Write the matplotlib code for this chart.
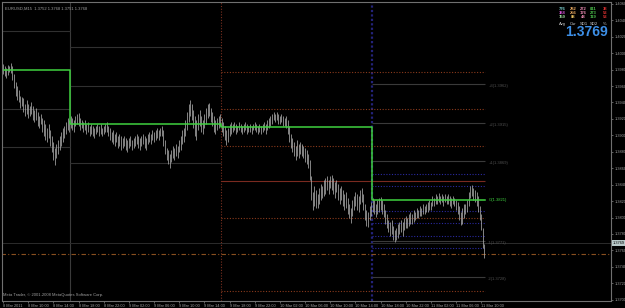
import matplotlib
matplotlib.use("Agg")
import matplotlib.pyplot as plt

plt.rcParams['font.family'] = ['Liberation Sans', 'DejaVu Sans']

# EURUSD M15 bars, 8 Mar 2011 06:00 onwards
highs = [
    1.3987, 1.3984, 1.3982, 1.3986, 1.3984, 1.3988, 1.3984, 1.3975, 1.3965, 1.3960,
    1.3955, 1.3948, 1.3947, 1.3945, 1.3938, 1.3943, 1.3938, 1.3936, 1.3941, 1.3936,
    1.3931, 1.3933, 1.3928, 1.3923, 1.3926, 1.3921, 1.3919, 1.3914, 1.3909, 1.3914,
    1.3906, 1.3899, 1.3892, 1.3885, 1.3889, 1.3894, 1.3899, 1.3904, 1.3909, 1.3911,
    1.3916, 1.3921, 1.3919, 1.3923, 1.3921, 1.3919, 1.3923, 1.3926, 1.3927, 1.3921,
    1.3919, 1.3916, 1.3919, 1.3914, 1.3916, 1.3911, 1.3914, 1.3911, 1.3909, 1.3911,
    1.3914, 1.3911, 1.3914, 1.3909, 1.3911, 1.3914, 1.3916, 1.3911, 1.3909, 1.3904,
    1.3906, 1.3902, 1.3904, 1.3899, 1.3902, 1.3899, 1.3897, 1.3899, 1.3897, 1.3894,
    1.3897, 1.3899, 1.3894, 1.3897, 1.3899, 1.3902, 1.3899, 1.3897, 1.3899, 1.3902,
    1.3899, 1.3897, 1.3902, 1.3904, 1.3902, 1.3906, 1.3904, 1.3906, 1.3909, 1.3906,
    1.3909, 1.3911, 1.3906, 1.3894, 1.3885, 1.3882, 1.3877, 1.3882, 1.3887, 1.3885,
    1.3889, 1.3887, 1.3894, 1.3899, 1.3906, 1.3909, 1.3919, 1.3928, 1.3938, 1.3943,
    1.3938, 1.3931, 1.3923, 1.3919, 1.3926, 1.3931, 1.3923, 1.3919, 1.3926, 1.3933,
    1.3938, 1.3939, 1.3933, 1.3928, 1.3923, 1.3919, 1.3921, 1.3923, 1.3926, 1.3921,
    1.3916, 1.3911, 1.3906, 1.3909, 1.3914, 1.3916, 1.3914, 1.3916, 1.3914, 1.3911,
    1.3916, 1.3914, 1.3911, 1.3914, 1.3916, 1.3914, 1.3911, 1.3914, 1.3911, 1.3914,
    1.3916, 1.3914, 1.3911, 1.3914, 1.3911, 1.3914, 1.3916, 1.3914, 1.3919, 1.3921,
    1.3923, 1.3926, 1.3928, 1.3926, 1.3928, 1.3926, 1.3923, 1.3926, 1.3923, 1.3921,
    1.3923, 1.3919, 1.3911, 1.3902, 1.3897, 1.3892, 1.3887, 1.3894, 1.3889, 1.3892,
    1.3889, 1.3887, 1.3885, 1.3882, 1.3877, 1.3870, 1.3850, 1.3831, 1.3838, 1.3833,
    1.3829, 1.3836, 1.3841, 1.3838, 1.3846, 1.3848, 1.3850, 1.3846, 1.3850, 1.3852,
    1.3848, 1.3843, 1.3846, 1.3841, 1.3836, 1.3838, 1.3833, 1.3829, 1.3831, 1.3824,
    1.3816, 1.3812, 1.3821, 1.3826, 1.3831, 1.3829, 1.3826, 1.3833, 1.3836, 1.3829,
    1.3816, 1.3809, 1.3807, 1.3814, 1.3819, 1.3824, 1.3821, 1.3816, 1.3821, 1.3824,
    1.3825, 1.3821, 1.3816, 1.3809, 1.3804, 1.3797, 1.3794, 1.3797, 1.3790, 1.3785,
    1.3787, 1.3792, 1.3794, 1.3797, 1.3794, 1.3799, 1.3802, 1.3799, 1.3804, 1.3807,
    1.3804, 1.3809, 1.3807, 1.3812, 1.3809, 1.3814, 1.3812, 1.3816, 1.3814, 1.3816,
    1.3819, 1.3821, 1.3819, 1.3826, 1.3824, 1.3829, 1.3826, 1.3830, 1.3826, 1.3829,
    1.3826, 1.3829, 1.3826, 1.3829, 1.3826, 1.3824, 1.3826, 1.3824, 1.3821, 1.3819,
    1.3814, 1.3807, 1.3812, 1.3816, 1.3816, 1.3821, 1.3831, 1.3838, 1.3840, 1.3836,
    1.3833, 1.3831, 1.3826, 1.3814, 1.3804, 1.3787, 1.3768,
]
lows = [
    1.3975, 1.3972, 1.3970, 1.3973, 1.3977, 1.3976, 1.3967, 1.3958, 1.3948, 1.3943,
    1.3941, 1.3933, 1.3936, 1.3928, 1.3923, 1.3926, 1.3921, 1.3923, 1.3926, 1.3919,
    1.3916, 1.3919, 1.3911, 1.3909, 1.3914, 1.3904, 1.3899, 1.3894, 1.3892, 1.3897,
    1.3887, 1.3880, 1.3870, 1.3864, 1.3872, 1.3877, 1.3882, 1.3887, 1.3892, 1.3897,
    1.3902, 1.3906, 1.3904, 1.3909, 1.3906, 1.3904, 1.3911, 1.3914, 1.3911, 1.3906,
    1.3909, 1.3904, 1.3906, 1.3902, 1.3904, 1.3899, 1.3902, 1.3899, 1.3897, 1.3902,
    1.3904, 1.3899, 1.3902, 1.3899, 1.3902, 1.3904, 1.3904, 1.3899, 1.3894, 1.3892,
    1.3889, 1.3887, 1.3892, 1.3885, 1.3887, 1.3882, 1.3885, 1.3887, 1.3882, 1.3880,
    1.3885, 1.3887, 1.3882, 1.3885, 1.3887, 1.3889, 1.3885, 1.3882, 1.3887, 1.3889,
    1.3885, 1.3882, 1.3889, 1.3892, 1.3889, 1.3894, 1.3892, 1.3894, 1.3897, 1.3894,
    1.3899, 1.3899, 1.3887, 1.3877, 1.3870, 1.3865, 1.3860, 1.3868, 1.3872, 1.3870,
    1.3875, 1.3872, 1.3880, 1.3882, 1.3889, 1.3892, 1.3899, 1.3906, 1.3916, 1.3923,
    1.3919, 1.3909, 1.3899, 1.3894, 1.3906, 1.3911, 1.3904, 1.3902, 1.3909, 1.3914,
    1.3921, 1.3923, 1.3916, 1.3911, 1.3904, 1.3902, 1.3906, 1.3909, 1.3911, 1.3904,
    1.3899, 1.3894, 1.3888, 1.3892, 1.3899, 1.3902, 1.3904, 1.3906, 1.3902, 1.3904,
    1.3906, 1.3904, 1.3902, 1.3904, 1.3906, 1.3902, 1.3904, 1.3904, 1.3902, 1.3906,
    1.3906, 1.3904, 1.3902, 1.3904, 1.3902, 1.3904, 1.3906, 1.3902, 1.3906, 1.3909,
    1.3911, 1.3914, 1.3919, 1.3916, 1.3919, 1.3914, 1.3914, 1.3916, 1.3911, 1.3911,
    1.3909, 1.3902, 1.3892, 1.3885, 1.3880, 1.3875, 1.3870, 1.3875, 1.3872, 1.3877,
    1.3875, 1.3872, 1.3868, 1.3865, 1.3860, 1.3846, 1.3821, 1.3809, 1.3814, 1.3812,
    1.3812, 1.3816, 1.3821, 1.3824, 1.3826, 1.3829, 1.3833, 1.3829, 1.3836, 1.3833,
    1.3829, 1.3824, 1.3831, 1.3821, 1.3816, 1.3821, 1.3814, 1.3809, 1.3812, 1.3804,
    1.3799, 1.3793, 1.3802, 1.3809, 1.3814, 1.3809, 1.3807, 1.3816, 1.3819, 1.3809,
    1.3797, 1.3790, 1.3789, 1.3797, 1.3802, 1.3807, 1.3804, 1.3801, 1.3804, 1.3807,
    1.3809, 1.3804, 1.3801, 1.3792, 1.3787, 1.3782, 1.3778, 1.3780, 1.3773, 1.3770,
    1.3773, 1.3775, 1.3780, 1.3782, 1.3778, 1.3785, 1.3787, 1.3787, 1.3790, 1.3792,
    1.3792, 1.3794, 1.3797, 1.3799, 1.3799, 1.3802, 1.3802, 1.3804, 1.3804, 1.3807,
    1.3807, 1.3809, 1.3809, 1.3814, 1.3814, 1.3816, 1.3816, 1.3819, 1.3816, 1.3819,
    1.3814, 1.3819, 1.3816, 1.3816, 1.3814, 1.3812, 1.3816, 1.3814, 1.3809, 1.3804,
    1.3797, 1.3791, 1.3792, 1.3799, 1.3804, 1.3807, 1.3814, 1.3824, 1.3826, 1.3821,
    1.3819, 1.3814, 1.3807, 1.3797, 1.3785, 1.3763, 1.3751,
]

x_labels = ["8 Mar 2011", "8 Mar 10:00", "8 Mar 14:00", "8 Mar 18:00", "8 Mar 22:00",
            "9 Mar 02:00", "9 Mar 06:00", "9 Mar 10:00", "9 Mar 14:00", "9 Mar 18:00",
            "9 Mar 22:00", "10 Mar 02:00", "10 Mar 06:00", "10 Mar 10:00", "10 Mar 14:00",
            "10 Mar 18:00", "10 Mar 22:00", "11 Mar 02:00", "11 Mar 06:00", "11 Mar 10:00"]
x_label_bars = [0, 16, 32, 48, 64, 80, 96, 112, 128, 144, 160, 176, 192, 208, 224,
                240, 256, 272, 288, 304]
y_ticks = [1.3700, 1.3720, 1.3740, 1.3760, 1.3780, 1.3800, 1.3820, 1.3840, 1.3860,
           1.3880, 1.3900, 1.3920, 1.3940, 1.3960, 1.3980, 1.4000, 1.4020, 1.4040, 1.4060]

# day boundaries (bar index) and daily pivot
day_breaks = [42.6, 138.6, 234.6]
pivot_edges = [0, 42.6, 138.6, 234.6, 306.5]
pivot_values = [1.3979, 1.3914, 1.3910, 1.3821]

day1_levels = [1.4027, 1.3932, 1.3886]
day2_levels = [1.4008, 1.3960, 1.3866]
fib_dotted = [1.3977, 1.3932, 1.3887, 1.3800, 1.3710]
fib_solid = 1.3844
fib_dashdot = 1.3756
today_levels = [1.3962, 1.3915, 1.3869, 1.3771, 1.3728]
today_names = ["+3", "+2", "+1", "-1", "-2"]
blue_levels = [1.3853, 1.3838, 1.3808, 1.3793, 1.3778, 1.3763]
bid = 1.3769

panel_rows = [["776", "282", "272", "811", "38"],
              ["388", "256", "176", "273", "53"],
              ["159", "88", "48", "119", "53"]]
panel_colors = [["#7fd6d6", "#e8a860", "#e888b0", "#4cc44c", "#d83030"],
                ["#d050d0", "#e8a860", "#e888b0", "#4cc44c", "#d83030"],
                ["#a0e0a0", "#e8c060", "#e888b0", "#4cc44c", "#d83030"]]
panel_heads = ["Avg", "Cur", "SD1", "SD2", "%"]

fig = plt.figure(figsize=(6.25, 3.08), dpi=100, facecolor='black')
ax = fig.add_axes([2 / 625, 7.5 / 308, 609 / 625, 298.5 / 308], facecolor='black')
ax.set_xlim(-0.64, 386.5)
ax.set_ylim(1.36990, 1.40623)

idx = list(range(len(highs)))
end = pivot_edges[-1]

# day separators
ax.axvline(day_breaks[0], color='#3a3a3a', lw=0.8)
ax.axvline(day_breaks[1], color='#7a3020', lw=0.8, ls=(0, (1, 1.5)))
ax.axvline(day_breaks[2], color='#23237a', lw=1.6, ls=(0, (1, 1)))

# previous-day levels
for v in day1_levels:
    ax.hlines(v, -1, day_breaks[0], color='#303030', lw=0.8)
for v in day2_levels:
    ax.hlines(v, day_breaks[0], day_breaks[1], color='#303030', lw=0.8)
for v in fib_dotted:
    ax.hlines(v, day_breaks[1], end, color='#8a3a1c', lw=0.8, ls=(0, (1, 1.5)))
ax.hlines(fib_solid, day_breaks[1], end, color='#7a2a20', lw=0.8)
ax.hlines(fib_dashdot, -1, 386, color='#8a5020', lw=0.8, ls=(0, (4, 2, 1, 2)))
for v in today_levels:
    ax.hlines(v, day_breaks[2], end, color='#3a3a3a', lw=0.8)
for v in blue_levels:
    ax.hlines(v, day_breaks[2], end, color='#2a2aa0', lw=0.8, ls=(0, (1, 1.5)))
ax.axhline(bid, color='#2c2c2c', lw=0.7)

# bars
ax.vlines(idx, lows, highs, color='#a8a8a8', lw=0.55)

# pivot step line
px, py = [], []
for k, v in enumerate(pivot_values):
    px += [pivot_edges[k], pivot_edges[k + 1]]
    py += [v, v]
ax.plot(px, py, color='#3fd23f', lw=1.1)

for name, v in zip(today_names, today_levels):
    ax.text(end + 2, v, f"{name}({v:.4f})", color='#505050', fontsize=3.0,
            va='top', ha='left')
ax.text(end + 2, pivot_values[-1], f"G({pivot_values[-1]:.4f})", color='#3fd23f',
        fontsize=3.0, va='center', ha='left')

# axes styling
for s in ax.spines.values():
    s.set_color('#707070')
    s.set_linewidth(0.8)
ax.yaxis.tick_right()
ax.set_yticks(y_ticks)
ax.set_yticklabels([f"{v:.4f}" for v in y_ticks])
ax.set_xticks(x_label_bars)
ax.set_xticklabels(x_labels, ha='left')
ax.tick_params(axis='both', colors='#707070', labelcolor='#a0a0a0', labelsize=2.8,
               length=1.5, width=0.6, pad=0.8)

# current price tag
ax.text(1.002, (bid - 1.36990) / (1.40623 - 1.36990), f"{bid:.4f}",
        transform=ax.transAxes, fontsize=2.8, color='black', va='center', ha='left',
        bbox=dict(boxstyle='square,pad=0.15', fc='#b8c8c8', ec='none'))

ax.text(0.005, 0.985, "EURUSD,M15  1.3752 1.3768 1.3751 1.3768", transform=ax.transAxes,
        fontsize=3.0, color='#a0a0a0', va='top', ha='left')
ax.text(0.002, 0.012, "Meta Trader, \u00a9 2001-2008 MetaQuotes Software Corp.",
        transform=ax.transAxes, fontsize=3.0, color='#a0a0a0', va='bottom', ha='left')

# info panel
col_x = [562.5, 573.5, 583.5, 593.5, 605]
row_y = [9.3, 13.3, 17.3]
for r, row in enumerate(panel_rows):
    for c, val in enumerate(row):
        fig.text(col_x[c] / 625, 1 - row_y[r] / 308, val, color=panel_colors[r][c],
                 fontsize=3.0, ha='center', va='center', fontweight='bold')
for c, h in enumerate(panel_heads):
    fig.text(col_x[c] / 625, 1 - 24.3 / 308, h, color='#d0d0d0', fontsize=3.0,
             ha='center', va='center')
fig.text(608 / 625, 1 - 32.3 / 308, f"{bid:.4f}", color='#3d8fe6', fontsize=10,
         fontweight='bold', ha='right', va='center')

fig.savefig("out.png", dpi=100, facecolor='black')
